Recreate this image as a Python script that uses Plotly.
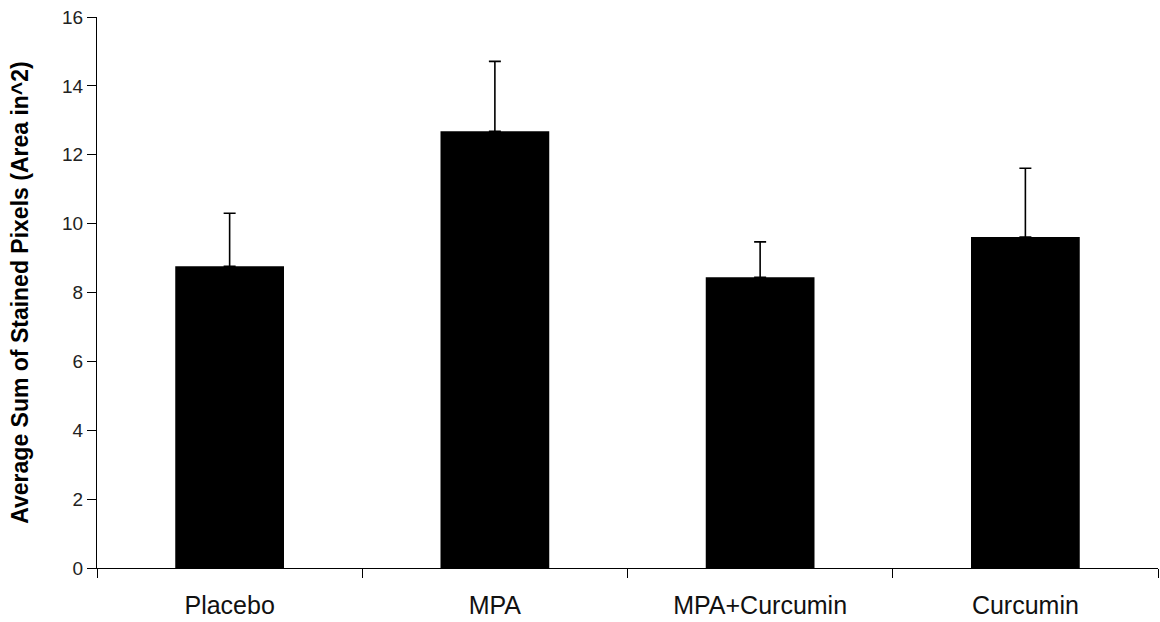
import plotly.graph_objects as go

categories = ["Placebo", "MPA", "MPA+Curcumin", "Curcumin"]
means = [8.76, 12.68, 8.44, 9.61]
errors = [1.54, 2.03, 1.03, 2.00]
y_ticks = [0, 2, 4, 6, 8, 10, 12, 14, 16]
y_title = "Average Sum of Stained Pixels (Area in^2)"

fig = go.Figure(go.Bar(
    x=categories, y=means,
    marker=dict(color="black", line=dict(width=0)),
    error_y=dict(type="data", array=errors, symmetric=False, arrayminus=[0]*4,
                 color="black", thickness=1.6, width=6),
    width=0.41,
))

fig.update_layout(
    width=1160, height=622,
    margin=dict(l=97, r=2, t=17, b=54),
    plot_bgcolor="white", paper_bgcolor="white",
    showlegend=False,
    font=dict(family="Liberation Sans, Arial, sans-serif", color="#111"),
)
fig.update_xaxes(
    automargin=False,
    showline=True, linecolor="black", linewidth=1.2,
    ticks="outside", tickson="boundaries", ticklen=9, tickcolor="black",
    tickfont=dict(size=25, color="#111"), showgrid=False,
    ticklabelstandoff=15,
)
fig.update_yaxes(
    automargin=False,
    range=[0, 16], tickvals=y_ticks,
    showline=True, linecolor="black", linewidth=1.2,
    ticks="outside", ticklen=9, tickcolor="black",
    tickfont=dict(size=19, color="#222"), showgrid=False, zeroline=False,
    title=dict(text="<b>" + y_title + "</b>", font=dict(size=23, color="black"), standoff=26),
)
fig.write_html("out.html", config={"displayModeBar": False},
               post_script="document.body.style.margin='0';document.body.style.overflow='hidden';")
